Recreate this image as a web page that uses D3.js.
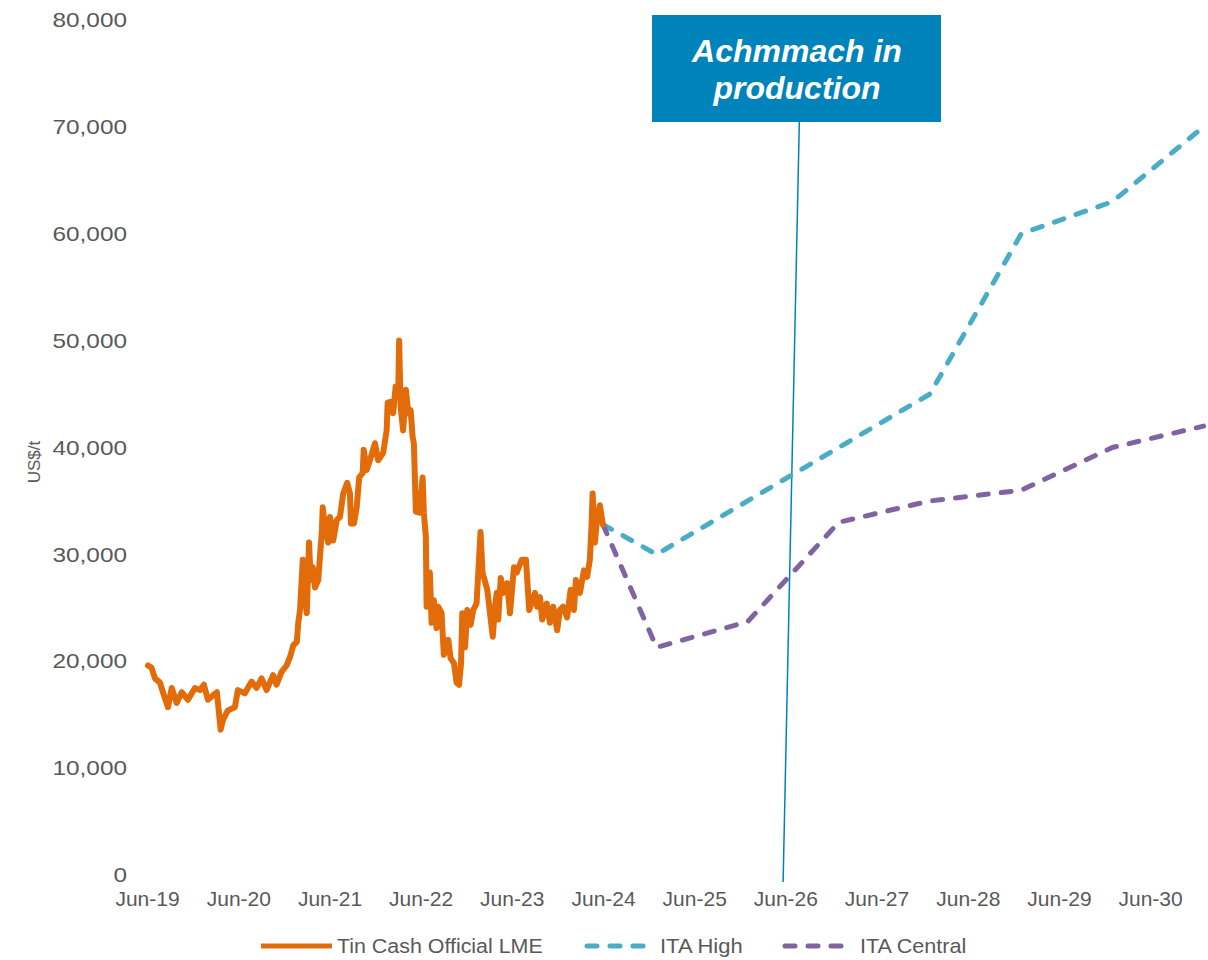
<!DOCTYPE html>
<html>
<head>
<meta charset="utf-8">
<script src="https://cdn.jsdelivr.net/npm/d3@7"></script>
<style>
  html, body { margin: 0; padding: 0; background: #ffffff; }
  svg { display: block; font-family: "Liberation Sans", Arial, sans-serif; }
</style>
</head>
<body>
<svg id="chart" width="1208" height="960"></svg>
<script>
// ---------------- DATA ----------------
const tinDates = [
  "2019-06-05","2019-06-19","2019-07-03","2019-07-23","2019-08-04","2019-08-24","2019-09-08","2019-09-28",
  "2019-10-18","2019-11-12","2019-12-10","2019-12-30","2020-01-15","2020-01-31","2020-02-20","2020-03-07",
  "2020-03-22","2020-03-31","2020-04-20","2020-05-18","2020-05-30","2020-06-27","2020-07-24","2020-08-13",
  "2020-09-02","2020-09-22","2020-10-18","2020-11-01","2020-11-21","2020-12-11","2020-12-25","2021-01-07",
  "2021-01-21","2021-01-27","2021-02-03","2021-02-14","2021-02-23","2021-03-02","2021-03-11","2021-03-18",
  "2021-03-26","2021-04-04","2021-04-17","2021-05-01","2021-05-05","2021-05-14","2021-05-27","2021-06-03",
  "2021-06-16","2021-06-30","2021-07-13","2021-07-26","2021-08-11","2021-08-22","2021-08-26","2021-09-07",
  "2021-09-18","2021-09-28","2021-10-12","2021-10-16","2021-10-28","2021-11-10","2021-11-30","2021-12-13",
  "2022-01-02","2022-01-16","2022-01-20","2022-02-05","2022-02-11","2022-02-21","2022-03-03","2022-03-07",
  "2022-03-13","2022-03-23","2022-04-03","2022-04-13","2022-04-22","2022-04-30","2022-05-05","2022-05-13",
  "2022-05-27","2022-06-09","2022-06-14","2022-06-22","2022-06-25","2022-07-08","2022-07-15","2022-07-24",
  "2022-08-04","2022-08-11","2022-08-24","2022-09-02","2022-09-20","2022-09-29","2022-10-13","2022-10-23",
  "2022-11-02","2022-11-10","2022-11-15","2022-11-26","2022-12-05","2022-12-18","2022-12-29","2023-01-11",
  "2023-01-18","2023-01-27","2023-02-04","2023-02-23","2023-03-06","2023-03-17","2023-03-26","2023-04-02",
  "2023-04-08","2023-04-18","2023-04-28","2023-05-14","2023-05-25","2023-06-10","2023-06-21","2023-07-11",
  "2023-07-28","2023-08-10","2023-09-02","2023-09-11","2023-09-22","2023-10-01","2023-10-19","2023-11-01",
  "2023-11-14","2023-11-30","2023-12-11","2023-12-24","2024-01-09","2024-01-23","2024-02-05","2024-02-13",
  "2024-02-29","2024-03-16","2024-03-29","2024-04-09","2024-04-16","2024-04-20","2024-04-29","2024-05-06",
  "2024-05-19","2024-05-31"
];
const tinValues = [
  19600,19400,18400,18000,17100,15700,17500,16100,
  17100,16400,17500,17300,17800,16400,16800,17100,
  13600,14500,15400,15700,17300,17000,18100,17500,
  18400,17300,18700,17800,19000,19600,20400,21500,
  21800,23600,24800,29500,26000,24500,31100,27600,
  28800,26900,27600,32000,34400,32500,31100,33500,
  31300,33200,33500,35700,36700,35700,32900,32900,
  34400,37200,37600,39800,37900,38800,40400,38800,
  39500,41600,44200,44300,43200,45700,44700,50000,
  43800,41600,45400,43200,43500,41000,40400,34000,
  33900,37200,33900,31600,25100,28300,23600,25700,
  23100,25100,24500,20600,22000,20300,19800,18000,
  17800,19800,24500,21300,24800,23400,24800,25400,
  28300,32100,28300,26700,24500,22300,25100,26400,
  23900,27800,26400,27300,24500,28800,28300,29500,
  29500,24800,26400,25100,26000,23900,25400,23600,
  25100,22900,24800,25100,24100,26700,24800,27600,
  26400,28500,27900,29500,32900,35700,31100,32900,
  34600,32800
];

const forecastDates   = ["2024-05-31","2025-01-01","2026-01-01","2027-01-01","2028-01-01","2029-01-01","2030-01-01","2031-01-01"];
const itaHighValues   = [32800, 30000, 35000, 40000, 45000, 60000, 63000, 70000];
const itaCentralValues= [32800, 21300, 23700, 33000, 35000, 36000, 40000, 42000];

const yTicks = [0,10000,20000,30000,40000,50000,60000,70000,80000];
const xTickDates = ["2019-06-01","2020-06-01","2021-06-01","2022-06-01","2023-06-01","2024-06-01",
                    "2025-06-01","2026-06-01","2027-06-01","2028-06-01","2029-06-01","2030-06-01"];
const seriesNames = ["Tin Cash Official LME","ITA High","ITA Central"];
const annotationText = ["Achmmach in","production"];
const annotationDates = ["2026-07-27","2026-05-23"]; // top, bottom of leader line

// ---------------- CHART ----------------
const parse = d3.timeParse("%Y-%m-%d");
const svg = d3.select("#chart");
const colors = { tin: "#E36C0A", high: "#4BACC6", central: "#8064A2", box: "#0083BA", text: "#595959" };
const FONT = '"Liberation Sans", Arial, sans-serif';

const x = d3.scaleTime()
  .domain([parse("2019-06-01"), parse("2031-01-01")])
  .range([147, 1203.5]);
const y = d3.scaleLinear().domain([0, 80000]).range([875, 20]);

// Y axis
const yAxis = d3.axisLeft(y).tickValues(yTicks).tickFormat(d3.format(",")).tickSize(0).tickPadding(0);
const gy = svg.append("g").attr("transform", "translate(127,0)").call(yAxis);
gy.select(".domain").remove();
gy.selectAll("text").attr("fill", colors.text).style("font-size", "21px")
  .style("font-family", FONT).attr("transform", "scale(1.16,1)");

// Y title
svg.append("text")
  .attr("transform", "translate(40,462) rotate(-90)")
  .attr("text-anchor", "middle")
  .attr("fill", colors.text)
  .style("font-size", "17px")
  .text("US$/t");

// X axis
const xAxis = d3.axisBottom(x).tickValues(xTickDates.map(parse)).tickFormat(d3.timeFormat("%b-%y")).tickSize(0).tickPadding(0);
const gx = svg.append("g").attr("transform", "translate(0,891)").call(xAxis);
gx.select(".domain").remove();
gx.selectAll("text").attr("fill", colors.text).style("font-size", "21px")
  .style("font-family", FONT);

// Lines
const tinData = tinDates.map((d, i) => ({ date: parse(d), value: tinValues[i] }));
const highData = forecastDates.map((d, i) => ({ date: parse(d), value: itaHighValues[i] }));
const centralData = forecastDates.map((d, i) => ({ date: parse(d), value: itaCentralValues[i] }));

const line = d3.line().x(d => x(d.date)).y(d => y(d.value));

// Annotation leader line (behind series)
const boxBottom = 122;
svg.append("line")
  .attr("x1", x(parse(annotationDates[0]))).attr("y1", boxBottom)
  .attr("x2", x(parse(annotationDates[1]))).attr("y2", y(0) + 7)
  .attr("stroke", colors.box).attr("stroke-width", 1.5);

svg.append("path").datum(highData).attr("d", line)
  .attr("fill", "none").attr("stroke", colors.high).attr("stroke-width", 5)
  .attr("stroke-dasharray", "10,13").attr("stroke-linecap", "round").attr("stroke-linejoin", "round");

svg.append("path").datum(centralData).attr("d", line)
  .attr("fill", "none").attr("stroke", colors.central).attr("stroke-width", 5)
  .attr("stroke-dasharray", "10,13").attr("stroke-linecap", "round").attr("stroke-linejoin", "round");

svg.append("path").datum(tinData).attr("d", line)
  .attr("fill", "none").attr("stroke", colors.tin).attr("stroke-width", 6)
  .attr("stroke-linecap", "round").attr("stroke-linejoin", "round");

// Annotation box
const boxCx = 797;
svg.append("rect")
  .attr("x", 652).attr("y", 15).attr("width", 289).attr("height", 107)
  .attr("fill", colors.box);
svg.append("text")
  .attr("x", boxCx).attr("text-anchor", "middle")
  .attr("fill", "#ffffff").style("font-size", "32px").style("font-weight", "bold").style("font-style", "italic")
  .selectAll("tspan").data(annotationText).join("tspan")
  .attr("x", boxCx).attr("y", (d, i) => 62 + i * 37).text(d => d);

// Legend
const legend = [
  { name: seriesNames[0], color: colors.tin, dash: null, x0: 261, x1: 332, tx: 337, sx: 1.07 },
  { name: seriesNames[1], color: colors.high, dash: "10,13", x0: 587, x1: 647, tx: 660, sx: 1.1 },
  { name: seriesNames[2], color: colors.central, dash: "10,13", x0: 785, x1: 845, tx: 860, sx: 1.08 }
];
const lg = svg.append("g");
legend.forEach(l => {
  lg.append("line").attr("x1", l.x0).attr("x2", l.x1).attr("y1", 946).attr("y2", 946)
    .attr("stroke", l.color).attr("stroke-width", 5)
    .attr("stroke-dasharray", l.dash).attr("stroke-linecap", l.dash ? "round" : "butt");
  lg.append("text").attr("transform", `translate(${l.tx},953) scale(${l.sx},1)`).attr("fill", colors.text)
    .style("font-size", "20px").text(l.name);
});
</script>
</body>
</html>
